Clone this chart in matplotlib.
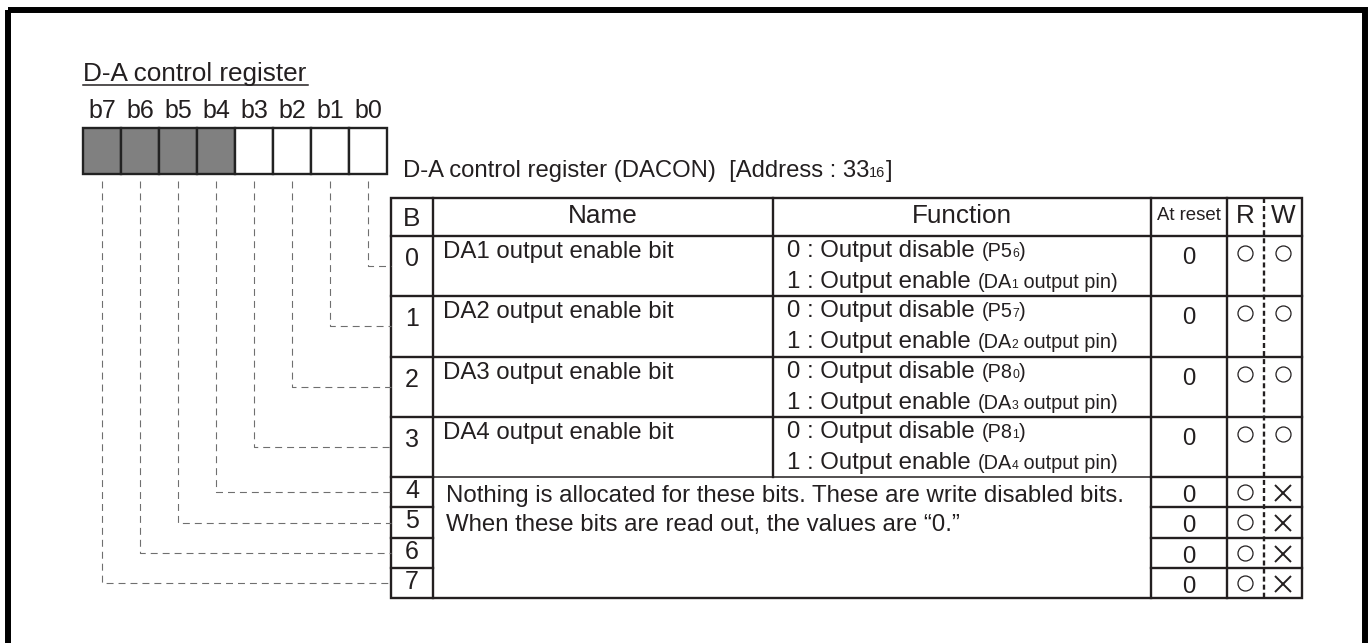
import matplotlib
matplotlib.use('Agg')
import matplotlib.pyplot as plt
from matplotlib import font_manager
from matplotlib.font_manager import FontProperties
from matplotlib.patches import Rectangle

plt.rcParams['font.family'] = ['Liberation Sans', 'DejaVu Sans']
plt.rcParams['lines.scale_dashes'] = False

# register data
title = 'D-A control register'
bit_labels = ['b7', 'b6', 'b5', 'b4', 'b3', 'b2', 'b1', 'b0']
bit_unused = [True, True, True, True, False, False, False, False]
reg_text = 'D-A control register (DACON)  [Address : 33'
reg_sub = '16'

headers = ['B', 'Name', 'Function', 'At reset', 'R', 'W']
bits = ['0', '1', '2', '3', '4', '5', '6', '7']
names = ['DA1 output enable bit', 'DA2 output enable bit',
         'DA3 output enable bit', 'DA4 output enable bit']
off_port = ['P5', 'P5', 'P8', 'P8']
off_sub = ['6', '7', '0', '1']
on_sub = ['1', '2', '3', '4']
unused_note = ['Nothing is allocated for these bits. These are write disabled bits.',
               'When these bits are read out, the values are \u201c0.\u201d']
reset_vals = ['0', '0', '0', '0', '0', '0', '0', '0']
read_ok = [True] * 8
write_ok = [True, True, True, True, False, False, False, False]

ink = '#231f20'
W, H = 1370, 643

fig = plt.figure(figsize=(W / 100, H / 100), dpi=100)
ax = fig.add_axes([0, 0, 1, 1])
ax.set_xlim(0, W)
ax.set_ylim(H, 0)
ax.axis('off')
renderer = fig.canvas.get_renderer()

avail = {f.name for f in font_manager.fontManager.ttflist}
if 'Liberation Sans Narrow' in avail:
    narrow = ('Liberation Sans Narrow', 17.3)
else:
    narrow = ('Liberation Sans', 14.3)
reg = ('Liberation Sans', 17.3)


def width(s, fam, size):
    fp = FontProperties(family=fam, size=size)
    a = renderer.get_text_width_height_descent(s + '|', fp, False)[0]
    b = renderer.get_text_width_height_descent('|', fp, False)[0]
    return a - b


def rich(x, y, pieces):
    # pieces: (text, family, size)
    for s, fam, size in pieces:
        ax.text(x, y, s, family=fam, fontsize=size, va='baseline', ha='left', color=ink)
        x += width(s, fam, size)
    return x


def line(xs, ys, lw=1.7, **kw):
    ax.plot(xs, ys, color=kw.pop('color', ink), lw=lw, solid_capstyle='projecting', **kw)


# outer frame
ax.add_patch(Rectangle((8, 10), 1357, 700, fill=False, lw=4.3, ec='black'))

# title
ax.text(83, 81, title, fontsize=18.8, color=ink, va='baseline')
line([83, 308], [84.5, 84.5], lw=1.1)

# bit boxes
box_x0, box_w, box_y0, box_y1 = 83, 38, 128, 174
for i, lab in enumerate(bit_labels):
    x = box_x0 + i * box_w
    ax.add_patch(Rectangle((x, box_y0), box_w, box_y1 - box_y0,
                           fc='#808080' if bit_unused[i] else 'white', ec='#222222', lw=1.7))
    ax.text(x + box_w / 2, 118, lab, fontsize=18, ha='center', va='baseline', color=ink)

rich(403, 177, [(reg_text, 'Liberation Sans', 17.2), (reg_sub, 'Liberation Sans', 10.5),
                (']', 'Liberation Sans', 17.2)])

# table geometry
cols = [391, 433, 773, 1151, 1227, 1264, 1302]
t_top, h_bot = 198, 236
heights = [60.3, 60.3, 60.3, 60.3, 30.2, 30.2, 30.2, 30.2]
tops = [h_bot]
for h in heights:
    tops.append(tops[-1] + h)
t_bot = tops[-1]

# connectors from bits to rows
for i in range(8):
    bit = 7 - i
    x = box_x0 + i * box_w + box_w / 2
    yc = (tops[bit] + tops[bit + 1]) / 2
    ax.plot([x, x, cols[0]], [box_y1 + 7, yc, yc], color='#6f6f6f', lw=0.8,
            dashes=(5, 3.6))

# table lines
ax.add_patch(Rectangle((cols[0], t_top), cols[-1] - cols[0], t_bot - t_top,
                       fill=False, ec=ink, lw=1.7))
for y in tops[:4]:
    line([cols[0], cols[-1]], [y, y])
line([cols[0], cols[1]], [tops[4], tops[4]])
line([cols[1], cols[3]], [tops[4], tops[4]], lw=1.1)
line([cols[3], cols[-1]], [tops[4], tops[4]])
for y in tops[5:8]:
    line([cols[0], cols[1]], [y, y])
    line([cols[3], cols[-1]], [y, y])
for x in [cols[1], cols[3], cols[4]]:
    line([x, x], [t_top, t_bot])
line([cols[2], cols[2]], [t_top, tops[4]])
ax.plot([cols[5], cols[5]], [t_top, t_bot], color=ink, lw=1.7, dashes=(3.6, 2.2))

# headers
hx = [(cols[k] + cols[k + 1]) / 2 for k in range(6)]
hy = [226, 223, 223, 220, 223, 223]
for k, txt in enumerate(headers):
    ax.text(hx[k], hy[k], txt, fontsize=13.4 if txt == 'At reset' else 18.8,
            ha='center', va='baseline', color=ink)

# rows
for r in range(8):
    top, bot = tops[r], tops[r + 1]
    big = r < 4
    ax.text(hx[0], top + (30 if big else 21), bits[r], fontsize=18, ha='center',
            va='baseline', color=ink)
    ax.text(hx[3], top + (28 if big else 25), reset_vals[r], fontsize=17.3, ha='center',
            va='baseline', color=ink)
    yc = top + (17 if big else 15)
    ax.plot(hx[4], yc, marker='o', ms=10.8, mfc='white', mec=ink, mew=0.9)
    if write_ok[r]:
        ax.plot(hx[5], yc, marker='o', ms=10.8, mfc='white', mec=ink, mew=0.9)
    else:
        ax.plot(hx[5], yc + 1, marker='x', ms=12, mec=ink, mew=1.4)
    if big:
        ax.text(443, top + 22, names[r], fontsize=17.3, va='baseline', color=ink)
        rich(787, top + 21, [('0 : Output disable ', *reg), ('(' + off_port[r], *narrow),
                             (off_sub[r], narrow[0], narrow[1] * 0.62), (')', *narrow)])
        rich(787, top + 52, [('1 : Output enable ', *reg), ('(DA', *narrow),
                             (on_sub[r], narrow[0], narrow[1] * 0.62),
                             (' output pin)', *narrow)])

for k, s in enumerate(unused_note):
    ax.text(446, tops[4] + 25 + k * 29, s, fontsize=17.3, va='baseline', color=ink)

fig.savefig('out.png', dpi=100)
